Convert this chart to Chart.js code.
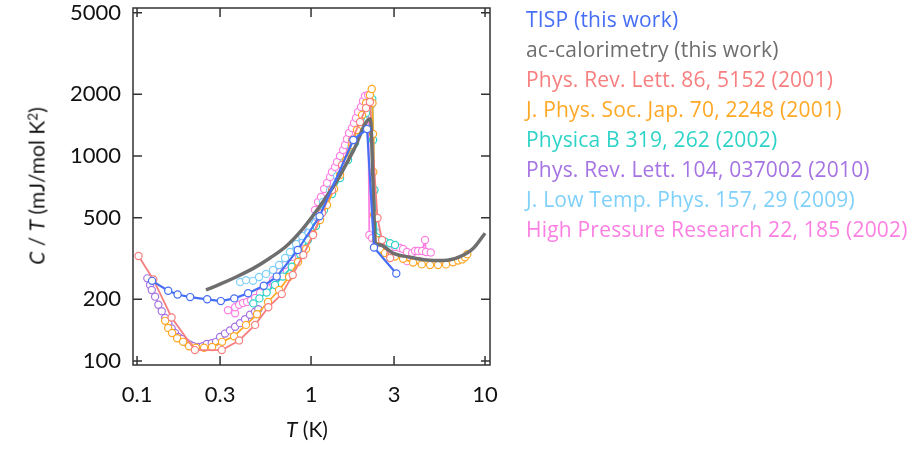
<!DOCTYPE html>
<html>
<head>
<meta charset="utf-8">
<script src="https://cdn.jsdelivr.net/npm/chart.js@4.4.0/dist/chart.umd.min.js"></script>
<style>
  html, body { margin: 0; padding: 0; background: #fff; }
  #wrap { position: relative; width: 918px; height: 449px; font-family: Lato, sans-serif; color: #111; }
  #plot { position: absolute; left: 0; top: 0; }
  #legend { position: absolute; left: 526px; top: 4px; font-family: "Open Sans", sans-serif; font-size: 21px; letter-spacing: 0.2px; line-height: 30px; white-space: nowrap; }
  #ytitle { position: absolute; left: 36px; top: 186px; transform: translate(-50%, -50%) rotate(-90deg); font-size: 21px; white-space: nowrap; }
  #xtitle { position: absolute; left: 307px; top: 428px; transform: translate(-50%, -50%); font-size: 21px; white-space: nowrap; }
  sup { font-size: 0.65em; vertical-align: 0.55em; line-height: 0; }
</style>
</head>
<body>
<div id="wrap">
  <canvas id="plot" width="918" height="449"></canvas>
  <div id="ytitle"><i>C</i> / <i>T</i> (mJ/mol K<sup>2</sup>)</div>
  <div id="xtitle"><i>T</i> (K)</div>
  <div id="legend"></div>
</div>
<script>
// tick labels
const xTicks = [0.1, 0.3, 1, 3, 10];
const yTicks = [100, 200, 500, 1000, 2000, 5000];

const seriesNames = [
    'TISP (this work)',
    'ac-calorimetry (this work)',
    'Phys. Rev. Lett. 86, 5152 (2001)',
    'J. Phys. Soc. Jap. 70, 2248 (2001)',
    'Physica B 319, 262 (2002)',
    'Phys. Rev. Lett. 104, 037002 (2010)',
    'J. Low Temp. Phys. 157, 29 (2009)',
    'High Pressure Research 22, 185 (2002)'
];
const seriesColors = ['#466ef5', '#6e6e6e', '#f77f7f', '#ffa826', '#2ed3c8', '#a673e3', '#7fd0fa', '#fc80e2'];

// T (K) and C/T (mJ/mol K^2)
const tispT = [0.122, 0.151, 0.171, 0.202, 0.253, 0.303, 0.362, 0.435, 0.535, 0.635, 0.839, 1.12, 1.75, 2.10, 2.30, 3.09];
const tispC = [246, 220, 211, 205, 200, 196, 202, 214, 233, 258, 348, 508, 1197, 1354, 358, 267];

const acT = [0.249, 0.300, 0.371, 0.466, 0.581, 0.725, 0.903, 1.126, 1.405, 1.75, 2.19, 2.35, 2.49, 2.97, 3.71, 4.62, 5.76, 7.18, 8.57, 10.0];
const acC = [222, 237, 257, 283, 318, 365, 445, 570, 755, 1060, 1520, 376, 368, 335, 321, 311, 309, 323, 355, 420];

const prl86T = [0.102, 0.124, 0.158, 0.215, 0.307, 0.386, 0.477, 0.568, 0.679, 0.785, 0.903, 1.027, 1.157, 1.32, 1.507, 1.72, 1.912, 2.07, 2.18, 2.41, 2.56, 2.85];
const prl86C = [325, 250, 163, 113, 113, 126, 150, 183, 212, 263, 329, 412, 527, 682, 904, 1197, 1466, 1715, 1835, 498, 389, 318];

const jpsjT = [0.145, 0.151, 0.159, 0.170, 0.184, 0.199, 0.218, 0.243, 0.270, 0.308, 0.361, 0.423, 0.489, 0.566, 0.655, 0.747, 0.842, 0.936, 1.027, 1.126, 1.236, 1.356, 1.468, 1.589, 1.720, 1.838, 1.964, 2.071, 2.18, 2.233, 2.256, 2.272, 2.28, 2.30, 2.364, 2.49, 2.66, 2.845, 3.04, 3.38, 3.86, 4.33, 4.83, 5.37, 5.97, 6.55, 7.0, 7.38, 7.67, 7.91];
const jpsjC = [157, 145, 137, 129, 124, 118, 116, 116, 117, 124, 132, 150, 169, 194, 222, 257, 304, 352, 416, 487, 577, 690, 808, 956, 1132, 1339, 1585, 1814, 1985, 2123, 1814, 1280, 836, 515, 389, 352, 336, 329, 323, 315, 302, 296, 294, 294, 296, 303, 309, 313, 321, 332];

const physbT = [0.466, 0.505, 0.556, 0.621, 0.688, 0.775, 0.865, 0.961, 1.068, 1.188, 1.32, 1.468, 1.632, 1.79, 1.94, 2.07, 2.18, 2.25, 2.272, 2.317, 2.386, 2.49, 2.66, 2.845, 3.04];
const physbC = [191, 202, 216, 235, 258, 288, 333, 389, 455, 545, 652, 781, 956, 1157, 1385, 1621, 1814, 1897, 1197, 682, 401, 389, 382, 375, 368];

const prl104T = [0.1146, 0.1188, 0.1215, 0.127, 0.1326, 0.1387, 0.145, 0.1513, 0.1582, 0.1653, 0.1727, 0.1807, 0.1912, 0.2017, 0.2107, 0.225, 0.2385, 0.2515, 0.2687, 0.2845, 0.300, 0.320, 0.342, 0.366, 0.391, 0.4175, 0.446, 0.4768, 0.498];
const prl104C = [253, 235, 222, 206, 188, 175, 162, 153, 144, 137, 131, 128, 123, 120, 118, 117, 118, 121, 122, 124, 131, 136, 141, 147, 153, 160, 168, 174, 179];

const jltpT = [0.391, 0.423, 0.464, 0.5025, 0.551, 0.605, 0.655, 0.709, 0.757, 0.820, 0.888, 0.974, 1.068, 1.172, 1.286, 1.411, 1.548, 1.698, 1.863, 2.017, 2.155, 2.242, 2.272, 2.287, 2.386];
const jltpC = [243, 248, 246, 257, 266, 278, 294, 318, 340, 372, 407, 455, 515, 597, 682, 799, 935, 1094, 1295, 1498, 1677, 1794, 1197, 667, 421];

const hprT = [0.333, 0.366, 0.366, 0.386, 0.4066, 0.4287, 0.452, 0.4768, 0.5093, 0.5586, 0.605, 0.6637, 0.709, 0.7777, 0.842, 0.8995, 0.961, 1.013, 1.054, 1.097, 1.141, 1.188, 1.236, 1.286, 1.32, 1.374, 1.411, 1.468, 1.527, 1.568, 1.61, 1.653, 1.72, 1.766, 1.814, 1.863, 1.938, 1.99, 2.043, 2.127, 2.163, 2.242, 2.593, 2.845, 3.04, 3.246, 3.38, 3.56, 3.56, 3.806, 3.96, 4.12, 4.345, 4.52, 4.58, 4.875];
const hprC = [177, 171, 183, 188, 192, 194, 198, 203, 215, 227, 248, 272, 294, 322, 356, 381, 426, 476, 545, 597, 631, 690, 738, 790, 836, 884, 935, 1000, 1070, 1132, 1210, 1295, 1369, 1449, 1532, 1639, 1734, 1855, 1962, 1985, 412, 398, 364, 356, 360, 356, 352, 340, 307, 336, 344, 344, 344, 389, 340, 338];

const allT = [tispT, acT, prl86T, jpsjT, physbT, prl104T, jltpT, hprT];
const allC = [tispC, acC, prl86C, jpsjC, physbC, prl104C, jltpC, hprC];

const datasets = seriesNames.map((name, i) => {
    const pts = allT[i].map((t, k) => ({ x: t, y: allC[i][k] }));
    const isAc = i === 1;
    return {
        label: name,
        data: pts,
        borderColor: seriesColors[i],
        backgroundColor: '#ffffff',
        borderWidth: isAc ? 3.5 : (i === 0 ? 2.2 : 1.8),
        pointRadius: isAc ? 0 : 3.6,
        pointBorderWidth: 1.2,
        pointBorderColor: seriesColors[i],
        pointBackgroundColor: '#ffffff',
        tension: isAc ? 0.4 : 0,
        cubicInterpolationMode: isAc ? 'monotone' : 'default',
        fill: false
    };
});

// frame with inward ticks on all four sides
const frameTicks = {
    id: 'frameTicks',
    afterDatasetsDraw(chart) {
        const { ctx, chartArea: a, scales: { x, y } } = chart;
        const len = 9;
        ctx.save();
        ctx.strokeStyle = '#333';
        ctx.lineWidth = 1.5;
        ctx.strokeRect(a.left, a.top, a.right - a.left, a.bottom - a.top);
        ctx.beginPath();
        xTicks.forEach(v => {
            const px = x.getPixelForValue(v);
            ctx.moveTo(px, a.bottom); ctx.lineTo(px, a.bottom - len);
            ctx.moveTo(px, a.top); ctx.lineTo(px, a.top + len);
        });
        yTicks.forEach(v => {
            const py = y.getPixelForValue(v);
            ctx.moveTo(a.left, py); ctx.lineTo(a.left + len, py);
            ctx.moveTo(a.right, py); ctx.lineTo(a.right - len, py);
        });
        ctx.stroke();
        ctx.restore();
    }
};

const noPad = s => { s.paddingTop = 0; s.paddingBottom = 0; s.paddingLeft = 0; s.paddingRight = 0; };

new Chart(document.getElementById('plot').getContext('2d'), {
    type: 'line',
    data: { datasets: datasets },
    options: {
        responsive: false,
        animation: false,
        layout: { padding: { left: 0, right: 428, top: 8, bottom: 0 } },
        plugins: { legend: { display: false }, tooltip: { enabled: false } },
        scales: {
            x: {
                type: 'logarithmic',
                min: 0.0948, max: 10.68,
                afterBuildTicks: s => { s.ticks = xTicks.map(v => ({ value: v })); },
                afterFit: s => { s.height = 84; noPad(s); },
                grid: { display: false, drawTicks: false },
                border: { display: false },
                ticks: {
                    font: { family: 'Lato', size: 22 }, color: '#111', padding: 17,
                    maxRotation: 0, autoSkip: false, callback: v => String(v)
                }
            },
            y: {
                type: 'logarithmic',
                min: 95.6, max: 5272,
                afterBuildTicks: s => { s.ticks = yTicks.map(v => ({ value: v })); },
                afterFit: s => { s.width = 133; noPad(s); },
                grid: { display: false, drawTicks: false },
                border: { display: false },
                ticks: {
                    font: { family: 'Lato', size: 22 }, color: '#111', padding: 12,
                    autoSkip: false, callback: v => String(v)
                }
            }
        }
    },
    plugins: [frameTicks]
});

const legend = document.getElementById('legend');
seriesNames.forEach((name, i) => {
    const d = document.createElement('div');
    d.textContent = name;
    d.style.color = seriesColors[i];
    legend.appendChild(d);
});
</script>
</body>
</html>
